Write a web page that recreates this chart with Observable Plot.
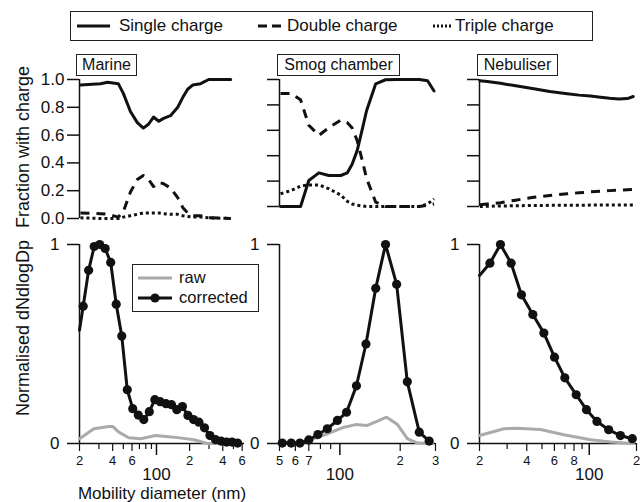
<!DOCTYPE html>
<html><head><meta charset="utf-8">
<script src="https://cdn.jsdelivr.net/npm/d3@7"></script>
<script src="https://cdn.jsdelivr.net/npm/@observablehq/plot@0.6"></script>
<style>
html,body{margin:0;padding:0;background:#fff;}
#root{position:relative;width:640px;height:502px;overflow:hidden;font-family:"Liberation Sans",Arial,Helvetica,sans-serif;color:#111;background:#fff;}
#root svg{position:absolute;}
.box{position:absolute;border:1.5px solid #222;box-sizing:border-box;background:#fff;display:flex;align-items:center;justify-content:center;font-size:16px;line-height:1;white-space:nowrap;}
.txt{position:absolute;font-size:17px;line-height:1;white-space:nowrap;}
</style></head><body><div id="root"></div>
<script>
// ---------------- DATA ----------------
const panelNames = ["Marine", "Smog chamber", "Nebuliser"];
const seriesNames = ["Single charge", "Double charge", "Triple charge"];
const distNames = ["raw", "corrected"];
const yTicksTop = [0, 0.2, 0.4, 0.6, 0.8, 1.0];
const yTicksBottom = [0, 1];

// Marine: charge fractions
const marineTopD = [20.4, 31, 36, 45, 50, 58, 67, 76, 85, 94, 105, 116, 134, 156, 173, 192, 213, 252, 298, 472];
const marineSingle = [0.96, 0.97, 0.98, 0.97, 0.90, 0.77, 0.69, 0.65, 0.68, 0.73, 0.70, 0.72, 0.74, 0.80, 0.87, 0.93, 0.96, 0.97, 1.0, 1.0];
const marineDouble = [0.04, 0.035, 0.03, 0.01, 0.05, 0.19, 0.28, 0.31, 0.28, 0.23, 0.26, 0.25, 0.22, 0.15, 0.08, 0.04, 0.02, 0.02, 0.005, 0.0];
const marineTriple = [0.005, 0.0, 0.0, 0.0, 0.01, 0.02, 0.03, 0.04, 0.04, 0.04, 0.04, 0.035, 0.03, 0.03, 0.02, 0.015, 0.01, 0.01, 0.005, 0.0];

// Smog chamber: charge fractions
const smogTopD = [50.6, 57, 63.7, 70, 78.6, 88, 101, 109, 115, 122, 129, 136, 151, 169, 192, 217, 249, 274, 295];
const smogSingle = [0.0, 0.0, 0.0, 0.205, 0.265, 0.244, 0.244, 0.265, 0.33, 0.44, 0.6, 0.756, 0.966, 0.998, 1.0, 1.0, 1.0, 0.99, 0.91];
const smogDouble = [0.89, 0.89, 0.84, 0.64, 0.56, 0.62, 0.68, 0.66, 0.62, 0.52, 0.37, 0.22, 0.034, 0.0, 0.0, 0.0, 0.0, 0.01, 0.02];
const smogTriple = [0.10, 0.125, 0.16, 0.17, 0.17, 0.14, 0.09, 0.04, 0.02, 0.01, 0.005, 0.0, 0.0, 0.0, 0.0, 0.0, 0.0, 0.02, 0.06];

// Nebuliser: charge fractions
const nebTopD = [20.1, 22.4, 27.2, 34, 44.4, 56, 72.4, 86, 101.8, 118, 135, 154, 175, 190.6];
const nebSingle = [0.99, 0.985, 0.97, 0.95, 0.927, 0.905, 0.887, 0.877, 0.87, 0.86, 0.852, 0.847, 0.85, 0.866];
const nebDouble = [0.013, 0.02, 0.03, 0.05, 0.073, 0.087, 0.10, 0.108, 0.115, 0.12, 0.125, 0.128, 0.131, 0.134];
const nebTriple = [0.0, 0.002, 0.004, 0.006, 0.008, 0.009, 0.01, 0.01, 0.011, 0.011, 0.011, 0.011, 0.011, 0.011];

// Marine: normalised size distributions
const marineD = [20, 21.6, 24.2, 27.2, 30.5, 34.2, 38.4, 43.1, 48.4, 54.3, 60.9, 68.4, 76.7, 86.1, 96.6, 108, 122, 137, 153, 172, 193, 217, 243, 273, 306, 344, 386, 433, 486, 545];
const marineCorr = [0.57, 0.69, 0.87, 0.99, 1.0, 0.98, 0.91, 0.70, 0.54, 0.27, 0.175, 0.143, 0.12, 0.16, 0.22, 0.21, 0.20, 0.195, 0.17, 0.186, 0.141, 0.12, 0.107, 0.079, 0.04, 0.019, 0.012, 0.007, 0.007, 0.002];
const marineRawD = [20, 27, 37, 40, 45.5, 56, 72, 98, 144, 219, 290, 560];
const marineRaw = [0.024, 0.074, 0.085, 0.086, 0.057, 0.029, 0.024, 0.04, 0.032, 0.019, 0.0, 0.0];

// Smog chamber: normalised size distributions
const smogD = [50, 51.6, 57.2, 63.2, 70.0, 77.7, 86.6, 97.2, 108, 121, 135, 151, 169, 192, 217, 249, 279];
const smogCorr = [0.0, 0.002, 0.002, 0.002, 0.018, 0.045, 0.074, 0.116, 0.157, 0.29, 0.5, 0.78, 1.0, 0.8, 0.31, 0.057, 0.012];
const smogRawD = [50, 61.3, 71.4, 86.6, 105, 120, 136, 154, 171, 194, 217, 244, 290];
const smogRaw = [0.0, 0.0, 0.018, 0.049, 0.082, 0.095, 0.09, 0.112, 0.132, 0.095, 0.024, 0.002, 0.0];

// Nebuliser: normalised size distributions
const nebD = [20, 23.3, 27.2, 31.8, 37.0, 43.7, 51.4, 60.1, 69.9, 82.6, 96.0, 112, 133, 158, 188];
const nebCorr = [0.844, 0.906, 1.0, 0.906, 0.747, 0.648, 0.555, 0.434, 0.33, 0.245, 0.17, 0.111, 0.069, 0.04, 0.024];
const nebRawD = [20, 28.6, 34.8, 48.9, 68.9, 101.8, 137, 190.6];
const nebRaw = [0.04, 0.074, 0.077, 0.07, 0.044, 0.019, 0.007, 0.0];

// x tick values and labels (log axes)
const marineMinorTicks = [30, 50, 70, 80, 90, 300, 500];
const marineLabelTicks = [20, 40, 60, 200, 400, 600];
const marineTickLabels = ["2", "4", "6", "2", "4", "6"];
const smogMinorTicks = [80, 90];
const smogLabelTicks = [50, 60, 70, 200, 300];
const smogTickLabels = ["5", "6", "7", "2", "3"];
const nebMinorTicks = [30, 50, 70, 90];
const nebLabelTicks = [20, 40, 60, 80, 200];
const nebTickLabels = ["2", "4", "6", "8", "2"];
const decadeTicks = [100];
const decadeLabels = ["100"];

const yTitleTop = "Fraction with charge";
const yTitleBottom = "Normalised dNdlogDp";
const xTitle = "Mobility diameter (nm)";

// ---------------- LAYOUT ----------------
const FONT = '"Liberation Sans", Arial, Helvetica, sans-serif';
const INK = "#111";
const GREY = "#aaaaaa";
const cols = [
  {svgLeft: 0,   svgWidth: 255, domain: [20, 630], frameL: 79,  frameR: 244, topBottom: 218},
  {svgLeft: 255, svgWidth: 195, domain: [50, 300], frameL: 279, frameR: 435, topBottom: 206},
  {svgLeft: 450, svgWidth: 190, domain: [20, 200], frameL: 479, frameR: 636, topBottom: 206}
];
const TOP_SVG = {top: 42, height: 194, frameTop: 79};
const BOT_SVG = {top: 236, height: 266, frameTop: 244, frameBottom: 443};

const topData = [
  {D: marineTopD, s: marineSingle, d: marineDouble, t: marineTriple},
  {D: smogTopD, s: smogSingle, d: smogDouble, t: smogTriple},
  {D: nebTopD, s: nebSingle, d: nebDouble, t: nebTriple}
];
const botData = [
  {D: marineD, c: marineCorr, rD: marineRawD, r: marineRaw, minor: marineMinorTicks, lab: marineLabelTicks, labT: marineTickLabels},
  {D: smogD, c: smogCorr, rD: smogRawD, r: smogRaw, minor: smogMinorTicks, lab: smogLabelTicks, labT: smogTickLabels},
  {D: nebD, c: nebCorr, rD: nebRawD, r: nebRaw, minor: nebMinorTicks, lab: nebLabelTicks, labT: nebTickLabels}
];

const root = document.getElementById("root");
const baseStyle = {background: "transparent", overflow: "visible", fontFamily: FONT, color: INK};

function place(svg, left, top) {
  svg.style.left = left + "px";
  svg.style.top = top + "px";
  svg.style.maxWidth = "none";
  root.appendChild(svg);
}

cols.forEach((c, k) => {
  const td = topData[k];
  const marks = [
    Plot.axisY({ticks: yTicksTop, tickSize: 12, tickPadding: 3, strokeWidth: 1.5,
      tickFormat: k === 0 ? d3.format(".1f") : () => "", fontSize: 17, label: null}),
    Plot.ruleX([c.domain[0]], {stroke: INK, strokeWidth: 1.5}),
    Plot.line(td.D, {x: td.D, y: td.t, stroke: INK, strokeWidth: 3, strokeDasharray: "3,3", strokeLinecap: "butt"}),
    Plot.line(td.D, {x: td.D, y: td.d, stroke: INK, strokeWidth: 3, strokeDasharray: "9,7", strokeLinecap: "butt"}),
    Plot.line(td.D, {x: td.D, y: td.s, stroke: INK, strokeWidth: 3})
  ];
  if (k === 0) marks.push(Plot.text([yTitleTop], {frameAnchor: "left", rotate: -90, dx: -56, dy: -2, fontSize: 18, textAnchor: "middle", lineAnchor: "middle", fill: INK}));
  const svg = Plot.plot({
    width: c.svgWidth, height: TOP_SVG.height,
    marginLeft: c.frameL - c.svgLeft, marginRight: c.svgLeft + c.svgWidth - c.frameR,
    marginTop: TOP_SVG.frameTop - TOP_SVG.top, marginBottom: TOP_SVG.top + TOP_SVG.height - c.topBottom,
    x: {type: "log", domain: c.domain, axis: null},
    y: {domain: [0, 1], axis: null},
    style: baseStyle,
    marks
  });
  place(svg, c.svgLeft, TOP_SVG.top);

  const bd = botData[k];
  const labMap = new Map(bd.lab.map((t, i) => [t, bd.labT[i]]));
  const decMap = new Map(decadeTicks.map((t, i) => [t, decadeLabels[i]]));
  const bmarks = [
    Plot.axisY({ticks: yTicksBottom, tickSize: 12, tickPadding: 8, strokeWidth: 1.5, tickFormat: d3.format("d"), fontSize: 17, label: null}),
    Plot.ruleX([c.domain[0]], {stroke: INK, strokeWidth: 1.5}),
    Plot.ruleY([0], {stroke: INK, strokeWidth: 1.5}),
    Plot.axisX({ticks: bd.minor, tickSize: 6, strokeWidth: 1.2, tickFormat: () => "", label: null}),
    Plot.axisX({ticks: bd.lab, tickSize: 8, tickPadding: 4, strokeWidth: 1.2, tickFormat: d => labMap.get(d), fontSize: 13, label: null}),
    Plot.axisX({ticks: decadeTicks, tickSize: 12, tickPadding: 12, strokeWidth: 1.5, tickFormat: d => decMap.get(d), fontSize: 17, label: null}),
    Plot.line(bd.rD, {x: bd.rD, y: bd.r, stroke: GREY, strokeWidth: 3}),
    Plot.line(bd.D, {x: bd.D, y: bd.c, stroke: INK, strokeWidth: 3}),
    Plot.dot(bd.D.slice(1), {x: bd.D.slice(1), y: bd.c.slice(1), r: 4.6, fill: INK, stroke: null})
  ];
  if (k === 0) {
    bmarks.push(Plot.text([yTitleBottom], {frameAnchor: "left", rotate: -90, dx: -56, dy: -16, fontSize: 18, textAnchor: "middle", lineAnchor: "middle", fill: INK}));
    bmarks.push(Plot.text([xTitle], {frameAnchor: "bottom", dy: 50, fontSize: 17, textAnchor: "middle", lineAnchor: "middle", fill: INK}));
  }
  const bsvg = Plot.plot({
    width: c.svgWidth, height: BOT_SVG.height,
    marginLeft: c.frameL - c.svgLeft, marginRight: c.svgLeft + c.svgWidth - c.frameR,
    marginTop: BOT_SVG.frameTop - BOT_SVG.top, marginBottom: BOT_SVG.top + BOT_SVG.height - BOT_SVG.frameBottom,
    x: {type: "log", domain: c.domain, axis: null},
    y: {domain: [0, 1], axis: null},
    style: baseStyle,
    marks: bmarks
  });
  place(bsvg, c.svgLeft, BOT_SVG.top);
});

// ---------------- PANEL LABELS ----------------
const labelBoxes = [
  {left: 76, top: 54, width: 61, height: 22},
  {left: 277, top: 54, width: 123, height: 22},
  {left: 477, top: 54, width: 81, height: 22}
];
panelNames.forEach((n, i) => {
  const b = labelBoxes[i];
  const div = document.createElement("div");
  div.className = "box";
  Object.assign(div.style, {left: b.left + "px", top: b.top + "px", width: b.width + "px", height: b.height + "px"});
  div.textContent = n;
  root.appendChild(div);
});

// ---------------- LEGENDS ----------------
function sample(left, top, w, h, inner) {
  const ns = "http://www.w3.org/2000/svg";
  const s = document.createElementNS(ns, "svg");
  s.setAttribute("width", w); s.setAttribute("height", h);
  s.style.position = "absolute"; s.style.left = left + "px"; s.style.top = top + "px";
  s.innerHTML = inner;
  return s;
}
function addText(str, left, cy, size) {
  const d = document.createElement("div");
  d.className = "txt";
  d.style.left = left + "px"; d.style.top = (cy - size * 0.55) + "px"; d.style.fontSize = size + "px";
  d.textContent = str;
  root.appendChild(d);
}
// top legend box
const lg = document.createElement("div");
lg.className = "box";
Object.assign(lg.style, {left: "70px", top: "11px", width: "523px", height: "30px"});
root.appendChild(lg);
root.appendChild(sample(77, 20, 34, 12, `<line x1="0" y1="6" x2="33" y2="6" stroke="${INK}" stroke-width="3"/>`));
addText(seriesNames[0], 119, 26, 17);
root.appendChild(sample(258, 20, 24, 12, `<line x1="0" y1="6" x2="23" y2="6" stroke="${INK}" stroke-width="3" stroke-dasharray="9,5"/>`));
addText(seriesNames[1], 287, 26, 17);
root.appendChild(sample(433, 20, 20, 12, `<line x1="0" y1="6" x2="19" y2="6" stroke="${INK}" stroke-width="3" stroke-dasharray="2,2"/>`));
addText(seriesNames[2], 455, 26, 17);

// bottom legend (inside Marine distribution panel)
const lb = document.createElement("div");
lb.className = "box";
Object.assign(lb.style, {left: "132px", top: "264px", width: "127px", height: "48px"});
root.appendChild(lb);
root.appendChild(sample(138, 272, 36, 12, `<line x1="0" y1="6" x2="34" y2="6" stroke="${GREY}" stroke-width="3"/>`));
addText(distNames[0], 179, 278, 16.5);
root.appendChild(sample(138, 292, 36, 12, `<line x1="0" y1="6" x2="34" y2="6" stroke="${INK}" stroke-width="3"/><circle cx="17" cy="6" r="4.6" fill="${INK}"/>`));
addText(distNames[1], 179, 298, 16.5);
</script></body></html>
